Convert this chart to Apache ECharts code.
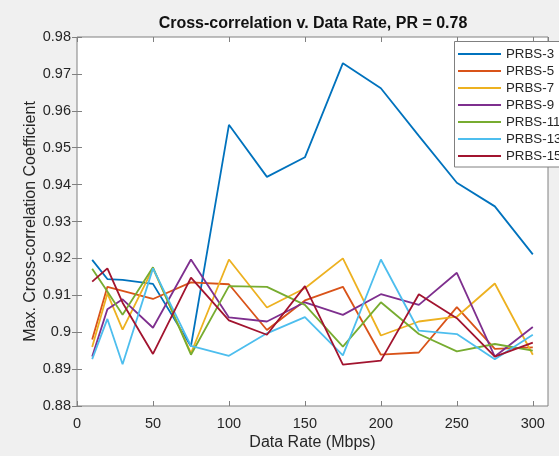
<!DOCTYPE html>
<html>
<head>
<meta charset="utf-8">
<script src="https://cdn.jsdelivr.net/npm/echarts@6/dist/echarts.min.js"></script>
<style>
  html, body { margin: 0; padding: 0; background: #f0f0f0; }
  #chart { width: 559px; height: 456px; }
</style>
</head>
<body>
<div id="chart"></div>
<script>
// Data rates (Mbps) at which each PRBS pattern was measured
const dataRates = [10, 20, 30, 50, 75, 100, 125, 150, 175, 200, 225, 250, 275, 300];

// Maximum cross-correlation coefficient per PRBS order
const prbs3  = [0.9196, 0.9144, 0.9142, 0.9131, 0.8962, 0.9562, 0.9421, 0.9474, 0.9729, 0.9661, 0.9532, 0.9405, 0.9341, 0.9211];
const prbs5  = [0.8980, 0.9123, 0.9112, 0.9090, 0.9135, 0.9130, 0.9006, 0.9086, 0.9123, 0.8939, 0.8945, 0.9068, 0.8955, 0.8959];
const prbs7  = [0.8960, 0.9105, 0.9007, 0.9173, 0.8943, 0.9197, 0.9067, 0.9119, 0.9200, 0.8991, 0.9029, 0.9042, 0.9132, 0.8939];
const prbs9  = [0.8934, 0.9062, 0.9089, 0.9012, 0.9197, 0.9040, 0.9029, 0.9081, 0.9047, 0.9103, 0.9074, 0.9161, 0.8934, 0.9014];
const prbs11 = [0.9172, 0.9110, 0.9047, 0.9176, 0.8939, 0.9125, 0.9123, 0.9074, 0.8961, 0.9081, 0.8995, 0.8948, 0.8968, 0.8950];
const prbs13 = [0.8927, 0.9036, 0.8913, 0.9173, 0.8963, 0.8936, 0.8997, 0.9041, 0.8937, 0.9197, 0.9004, 0.8995, 0.8927, 0.8993];
const prbs15 = [0.9137, 0.9173, 0.9080, 0.8941, 0.9148, 0.9032, 0.8993, 0.9125, 0.8912, 0.8923, 0.9103, 0.9038, 0.8934, 0.8972];

const seriesNames = ['PRBS-3', 'PRBS-5', 'PRBS-7', 'PRBS-9', 'PRBS-11', 'PRBS-13', 'PRBS-15'];
const seriesValues = [prbs3, prbs5, prbs7, prbs9, prbs11, prbs13, prbs15];
const seriesColors = ['#0072BD', '#D95319', '#EDB120', '#7E2F8E', '#77AC30', '#4DBEEE', '#A2142F'];

const FONT = "'Liberation Sans', Arial, Helvetica, sans-serif";
const TEXT = '#262626';
const AXIS = '#808080';

const chart = echarts.init(document.getElementById('chart'), null, { renderer: 'canvas' });

const fmtY = v => String(parseFloat(Number(v).toFixed(2)));

const series = seriesNames.map((name, i) => ({
  name: name,
  type: 'line',
  xAxisIndex: 0,
  yAxisIndex: 0,
  symbol: 'none',
  color: seriesColors[i],
  lineStyle: { width: 1.8, color: seriesColors[i] },
  data: dataRates.map((x, j) => [x, seriesValues[i][j]])
}));

chart.setOption({
  animation: false,
  backgroundColor: '#f0f0f0',
  textStyle: { fontFamily: FONT },
  title: {
    text: 'Cross-correlation v. Data Rate, PR = 0.78',
    left: 313,
    top: 16,
    padding: 0,
    textAlign: 'center',
    textStyle: { fontFamily: FONT, fontSize: 16, fontWeight: 'bold', color: '#111' }
  },
  grid: {
    left: 77, top: 37, right: 11, bottom: 49,
    show: true,
    backgroundColor: '#ffffff',
    borderColor: AXIS,
    borderWidth: 1
  },
  // legend frame, drawn above the plot lines and below the legend entries
  graphic: [{
    type: 'rect',
    z: 3,
    shape: { x: 454.5, y: 41.5, width: 130, height: 125.5 },
    style: { fill: '#ffffff', stroke: AXIS, lineWidth: 1 }
  }],
  legend: {
    orient: 'vertical',
    left: 458,
    top: 47.5,
    padding: 0,
    icon: 'rect',
    itemWidth: 43,
    itemHeight: 2,
    itemGap: 4,
    data: seriesNames,
    textStyle: { fontFamily: FONT, fontSize: 13.3, color: TEXT }
  },
  xAxis: [
    {
      type: 'value',
      min: 0, max: 310, interval: 50,
      position: 'bottom',
      name: 'Data Rate (Mbps)',
      nameLocation: 'middle',
      nameGap: 29,
      nameMoveOverlap: false,
      nameTextStyle: { fontFamily: FONT, fontSize: 16, color: TEXT },
      axisLine: { show: false },
      axisTick: { show: true, inside: true, length: 5, lineStyle: { color: AXIS } },
      axisLabel: { show: true, margin: 10, showMaxLabel: false, fontFamily: FONT, fontSize: 14.5, color: TEXT,
        formatter: v => (v > 300 ? '' : String(v)) },
      splitLine: { show: false }
    },
    {
      type: 'value',
      min: 0, max: 310, interval: 50,
      position: 'top',
      axisLine: { show: false },
      axisTick: { show: true, inside: true, length: 5, lineStyle: { color: AXIS } },
      axisLabel: { show: false },
      splitLine: { show: false }
    }
  ],
  yAxis: [
    {
      type: 'value',
      min: 0.88, max: 0.98, interval: 0.01,
      position: 'left',
      name: 'Max. Cross-correlation Coefficient',
      nameLocation: 'middle',
      nameGap: 38,
      nameMoveOverlap: false,
      nameTextStyle: { fontFamily: FONT, fontSize: 16, color: TEXT },
      axisLine: { show: false },
      axisTick: { show: true, inside: true, length: 5, lineStyle: { color: AXIS } },
      axisLabel: { show: true, margin: 6, fontFamily: FONT, fontSize: 14.5, color: TEXT, formatter: fmtY },
      splitLine: { show: false }
    },
    {
      type: 'value',
      min: 0.88, max: 0.98, interval: 0.01,
      position: 'right',
      axisLine: { show: false },
      axisTick: { show: true, inside: true, length: 5, lineStyle: { color: AXIS } },
      axisLabel: { show: false },
      splitLine: { show: false }
    }
  ],
  series: series
});
</script>
</body>
</html>
